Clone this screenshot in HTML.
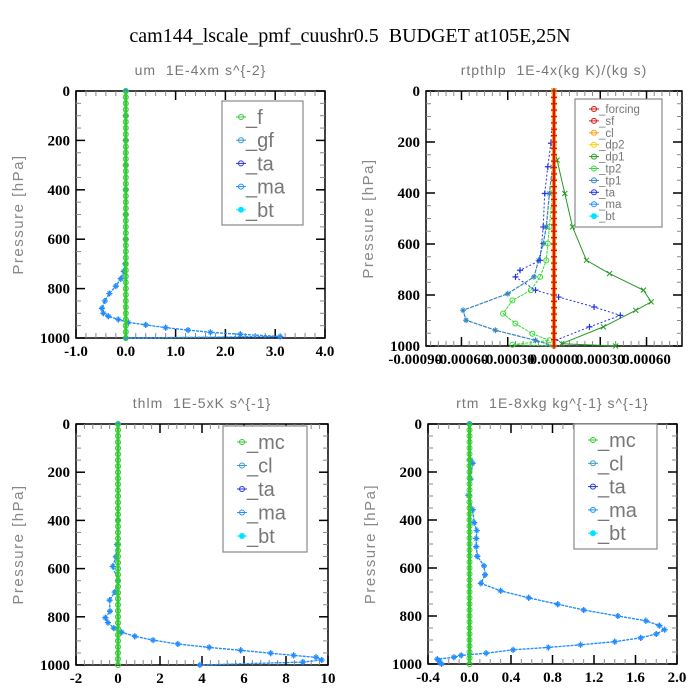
<!DOCTYPE html>
<html><head><meta charset="utf-8"><style>
body{margin:0;background:#fff;}
svg{display:block;}
.tk{font-family:"Liberation Serif",serif;font-size:15px;font-weight:bold;fill:#000;}
.st{font-family:"Liberation Sans",sans-serif;font-size:14px;fill:#777;letter-spacing:1px;white-space:pre;}
.yt{font-family:"Liberation Sans",sans-serif;font-size:15px;fill:#888;letter-spacing:1.5px;white-space:pre;}
</style></head><body>
<svg id="chart" width="700" height="700">
<text x="350" y="42" text-anchor="middle" font-family="Liberation Serif,serif" font-size="20" style="white-space:pre">cam144_lscale_pmf_cuushr0.5  BUDGET at105E,25N</text>
</svg>
<script>
// ---- data ----
const um_p=[0,100,200,300,400,500,600,700,730,760,790,820,850,880,900,912,925,937,947,958,968,977,985,994,1000];
const um_v=[0,0,0,0,0,0,0,-0.01,-0.04,-0.1,-0.2,-0.33,-0.42,-0.48,-0.45,-0.35,-0.15,0.05,0.4,0.8,1.25,1.7,2.3,3.1,0];
const rt_dp1_p=[0,220,271,402,533,664,716,781,827,860,925,991,1000];
const rt_dp1_v=[0,0,0.00002,0.00007,0.00012,0.00021,0.00036,0.00058,0.00063,0.00053,0.00032,0.00005,0.0004];
const rt_tp2_p=[0,400,533,598,664,729,781,821,873,912,952,978,995,1000];
const rt_tp2_v=[0,-0.00001,-0.00003,-0.00004,-0.00005,-0.00009,-0.00015,-0.00027,-0.00033,-0.00025,-0.00014,-0.00003,-0.00027,0];
const rt_tp1_p=[0,297,402,533,598,664,729,795,860,899,938,978,1000];
const rt_tp1_v=[0,-0.00001,-0.00003,-0.00005,-0.00007,-0.0001,-0.00013,-0.0003,-0.00059,-0.00057,-0.00038,-0.00012,0];
const rt_ta_p=[0,205,297,402,533,664,703,729,781,808,847,880,925,978,1000];
const rt_ta_v=[0,-0.00002,-0.00004,-0.00006,-0.00007,-0.00009,-0.00022,-0.00025,-0.00012,0.00003,0.00026,0.00043,0.00023,0.00001,0];
const th_p=[0,400,500,551,591,650,697,731,777,804,824,847,864,881,897,913,927,939,951,960,968,979,988,1000];
const th_v=[0,0,-0.05,-0.1,-0.25,0,-0.15,-0.4,-0.38,-0.6,-0.48,-0.2,0.17,0.8,1.67,2.85,4.34,5.84,7.27,8.36,9.43,9.7,8.8,3.9];
const rq_p=[0,150,164,230,297,357,411,444,477,511,551,591,628,664,695,724,751,775,800,820,840,857,875,891,907,920,931,941,955,964,972,980,988,1000];
const rq_v=[0,0.01,0.03,0.01,-0.01,0.03,0.045,0.07,0.065,0.065,0.075,0.14,0.15,0.11,0.3,0.57,0.85,1.1,1.43,1.7,1.83,1.88,1.8,1.65,1.4,1.07,0.76,0.42,0.16,-0.08,-0.15,-0.31,-0.29,-0.27];
const levels=[0,25,50,75,100,125,150,175,200,225,250,275,300,325,350,375,400,425,450,475,500,525,550,575,600,625,650,675,700,725,750,775,800,825,850,875,900,925,950,975,1000];
const um_ticks=[-1,0,1,2,3,4], um_labels=["-1.0","0.0","1.0","2.0","3.0","4.0"];
const rt_ticks=[-0.0009,-0.0006,-0.0003,0,0.0003,0.0006], rt_labels=["-0.00090","-0.00060","-0.00030","0.00000","0.00030","0.00060"];
const th_ticks=[-2,0,2,4,6,8,10], th_labels=["-2","0","2","4","6","8","10"];
const rq_ticks=[-0.4,0,0.4,0.8,1.2,1.6,2.0], rq_labels=["-0.4","0.0","0.4","0.8","1.2","1.6","2.0"];
const p_ticks=[0,200,400,600,800,1000];

const NS="http://www.w3.org/2000/svg";
const svg=document.getElementById('chart');
function mk(tag,attrs,parent){const e=document.createElementNS(NS,tag);for(const k in attrs)e.setAttribute(k,attrs[k]);(parent||svg).appendChild(e);return e;}
function panel(name,L,R,T,B,xmin,xmax,ticks,labels,title,minorStep){
  const g=mk('g',{});
  
  
  const sx=v=>L+(v-xmin)/(xmax-xmin)*(R-L);
  const sy=p=>T+p/1000*(B-T);
  const t=mk('text',{x:(L+R)/2,y:T-16,'text-anchor':'middle',class:'st'},g);t.textContent=title;
  
  
  const yt=mk('text',{x:0,y:0,'text-anchor':'middle',class:'yt',transform:`translate(${L-53},${(T+B)/2}) rotate(-90)`},g);yt.textContent='Pressure [hPa]';
  
  
  mk('rect',{x:L,y:T,width:R-L,height:B-T,fill:'none',stroke:'#000','stroke-width':1.5},g);
  for(let p=0;p<=1000;p+=50){const maj=p%200===0;const l=maj?9:5;
    mk('line',{x1:L,x2:L+l,y1:sy(p),y2:sy(p),stroke:maj?'#000':'#888','stroke-width':maj?1.5:1},g);
    mk('line',{x1:R,x2:R-l,y1:sy(p),y2:sy(p),stroke:maj?'#000':'#888','stroke-width':maj?1.5:1},g);}
  p_ticks.forEach(p=>{const e=mk('text',{x:L-6,y:sy(p)+5,'text-anchor':'end',class:'tk'},g);e.textContent=p;
    
    });
  const first=Math.ceil(xmin/minorStep)*minorStep;
  for(let v=first;v<=xmax+1e-12;v+=minorStep){mk('line',{x1:sx(v),x2:sx(v),y1:B,y2:B-5,stroke:'#888'},g);mk('line',{x1:sx(v),x2:sx(v),y1:T,y2:T+5,stroke:'#888'},g);}
  ticks.forEach((v,i)=>{if(v>=xmin&&v<=xmax){mk('line',{x1:sx(v),x2:sx(v),y1:B,y2:B-9,stroke:'#000','stroke-width':1.5},g);mk('line',{x1:sx(v),x2:sx(v),y1:T,y2:T+9,stroke:'#000','stroke-width':1.5},g);}
    const e=mk('text',{x:sx(v),y:B+18,'text-anchor':'middle',class:'tk'},g);e.textContent=labels[i];
    
    });
  return {g,sx,sy};
}
function series(P,name,ps,vs,color,width,marker,dash){
  const pts=ps.map((p,i)=>P.sx(vs[i]).toFixed(1)+','+P.sy(p).toFixed(1)).join(' ');
  const l=mk('polyline',{points:pts,fill:'none',stroke:color,'stroke-width':width,'stroke-dasharray':dash||'none'},P.g);
  
  
  ps.forEach((p,i)=>{const x=P.sx(vs[i]),y=P.sy(p);
    if(marker==='o')mk('circle',{cx:x,cy:y,r:2.5,fill:'none',stroke:color,'stroke-width':1},P.g);
    else if(marker==='+'){mk('path',{d:`M${x-3},${y}h6M${x},${y-3}v6`,stroke:color,'stroke-width':1.2},P.g);}
    else if(marker==='x'){mk('path',{d:`M${x-2.5},${y-2.5}l5,5M${x+2.5},${y-2.5}l-5,5`,stroke:color,'stroke-width':1},P.g);}
    else if(marker==='*'){mk('path',{d:`M${x-3},${y}h6M${x},${y-3}v6M${x-2},${y-2}l4,4M${x+2},${y-2}l-4,4`,stroke:color,'stroke-width':1},P.g);}
  });
}
function zeroLine(P,name,color,width,marker){
  series(P,name,levels,levels.map(()=>0),color,width,marker);
}
function legend(P,name,x,y,w,h,items,fs,startY,step){
  const g=mk('g',{},P.g);
  
  
  mk('rect',{x,y,width:w,height:h,fill:'#fff',stroke:'#888','stroke-width':1.2},g);
  items.forEach((it,i)=>{const yy=startY+i*step;
    mk('line',{x1:x+14,x2:x+24,y1:yy,y2:yy,stroke:it[1],'stroke-width':1},g);
    mk('circle',{cx:x+19,cy:yy,r:2.5,fill:it[2]?it[1]:'none',stroke:it[1]},g);
    const t=mk('text',{x:x+24,y:yy+fs*0.35,'font-family':'Liberation Sans,sans-serif','font-size':fs,fill:'#777'},g);t.textContent=it[0];
    
    });
}
const P1=panel('panel-um',76,325,91,338,-1,4,um_ticks,um_labels,'um  1E-4xm s^{-2}',0.2);
series(P1,'um-ta-line',um_p,um_v,'#2233dd',1,'+','2,2');
series(P1,'um-ma-line',um_p,um_v,'#1e90ff',1.3,'*','3,1');
zeroLine(P1,'um-f-line','#33cc33',3,'o');
legend(P1,'legend-um',222,101,81,124,[['_f','#33cc33'],['_gf','#3399cc'],['_ta','#2233dd'],['_ma','#1e90ff'],['_bt','#00e5ff',1]],20,117,23.2);
const P2=panel('panel-rtpthlp',426,682,91,346,-0.00083,0.00083,rt_ticks,rt_labels,'rtpthlp  1E-4x(kg K)/(kg s)',0.00005);
series(P2,'rt-dp1-line',rt_dp1_p,rt_dp1_v,'#229922',1,'x');
series(P2,'rt-tp2-line',rt_tp2_p,rt_tp2_v,'#33dd33',1,'o','3,1');
series(P2,'rt-tp1-line',rt_tp1_p,rt_tp1_v,'#3388bb',1.2,'*','4,1');
series(P2,'rt-ta-line',rt_ta_p,rt_ta_v,'#2233ee',1,'+','2,2');
zeroLine(P2,'rt-dp2-line','#ffcc00',4,'o');
zeroLine(P2,'rt-forcing-line','#dd1111',2.5,'+');
legend(P2,'legend-rtpthlp',575,99,87,128,[['_forcing','#dd1111'],['_sf','#dd1111'],['_cl','#ff9900'],['_dp2','#ffcc00'],['_dp1','#229922'],['_tp2','#33dd33'],['_tp1','#3388bb'],['_ta','#2233ee'],['_ma','#1e90ff'],['_bt','#00e5ff',1]],11.5,109,11.9);
const P3=panel('panel-thlm',76,328,424,665,-2,10,th_ticks,th_labels,'thlm  1E-5xK s^{-1}',0.4);
series(P3,'thlm-ta-line',th_p,th_v,'#2233dd',1,'+','2,2');
series(P3,'thlm-ma-line',th_p,th_v,'#1e90ff',1.3,'*','3,1');
zeroLine(P3,'thlm-mc-line','#33cc33',3,'o');
legend(P3,'legend-thlm',223,426,84,126,[['_mc','#33cc33'],['_cl','#3399cc'],['_ta','#2233dd'],['_ma','#1e90ff'],['_bt','#00e5ff',1]],20,442,23.5);
const P4=panel('panel-rtm',428,677,424,664,-0.4,2.0,rq_ticks,rq_labels,'rtm  1E-8xkg kg^{-1} s^{-1}',0.1);
series(P4,'rtm-ta-line',rq_p,rq_v,'#2233dd',1,'+','2,2');
series(P4,'rtm-ma-line',rq_p,rq_v,'#1e90ff',1.3,'*','3,1');
zeroLine(P4,'rtm-mc-line','#33cc33',3,'o');
legend(P4,'legend-rtm',574,424,83,125,[['_mc','#33cc33'],['_cl','#3399cc'],['_ta','#2233dd'],['_ma','#1e90ff'],['_bt','#00e5ff',1]],20,440,23.3);
</script>
</body></html>
